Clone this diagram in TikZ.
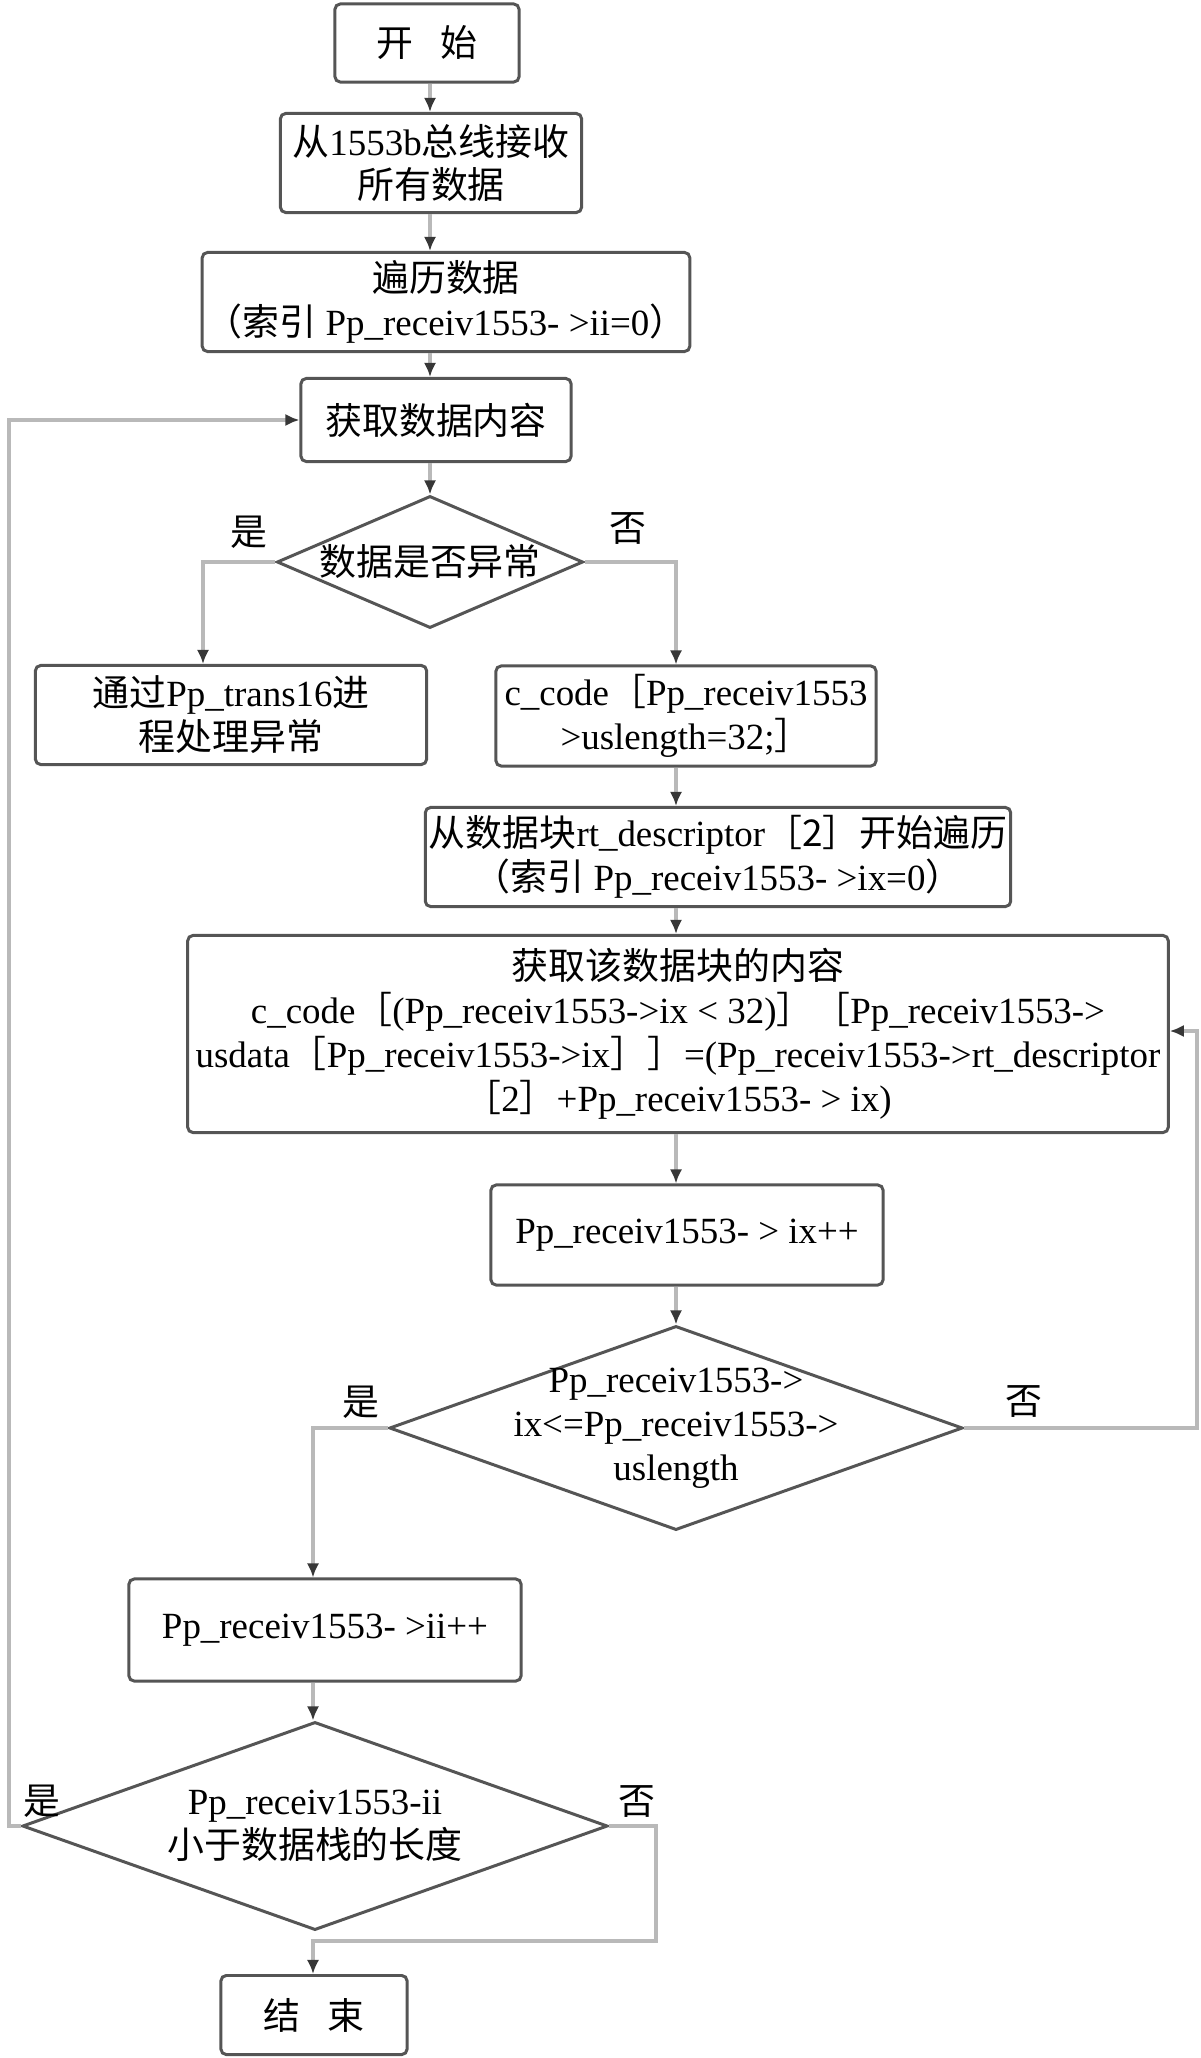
\documentclass[tikz,border=0pt]{standalone}
\usepackage{fontspec}
\setmainfont{Liberation Serif}
\newfontfamily\cjk{Noto Sans CJK SC}
\newcommand{\zh}[1]{{\cjk #1}}
\usetikzlibrary{shapes.geometric,arrows.meta}
\definecolor{boxgray}{RGB}{85,85,85}
\definecolor{linegray}{RGB}{185,185,185}
\definecolor{tipgray}{RGB}{55,55,55}
\tikzset{
  procbox/.style={draw=boxgray,line width=0.85pt,rounded corners=1.5pt,fill=white,
    align=center,inner sep=1pt,font=\fontsize{10.5}{12.5}\selectfont},
  decbox/.style={draw=boxgray,line width=0.85pt,diamond,inner sep=0pt,fill=white},
  dectext/.style={align=center,inner sep=0pt,font=\fontsize{10.5}{12.5}\selectfont},
  flow/.style={draw=linegray,line width=1pt,-{Latex[length=4pt,width=3.5pt,color=tipgray]}},
  yesno/.style={inner sep=0pt,font=\fontsize{10.5}{12.5}\selectfont\cjk}
}
\begin{document}
\begin{tikzpicture}[x=0.01cm,y=-0.01cm]
  \useasboundingbox (0,0) rectangle (1200,2058);
  % columns of the connectors
  \coordinate (colT) at (430,0);
  \coordinate (colL) at (203,0);
  \coordinate (colR) at (676,0);
  \coordinate (colLL) at (313,0);
  \coordinate (rloop) at (1197,1031);
  \coordinate (lloop) at (9,420);
  \coordinate (rbend) at (656,1941);
  \coordinate (jn) at (313,1941);

  % process boxes
  \node[procbox,minimum width=1.84cm,minimum height=0.78cm] (start) at (427,43)
    {\zh{开}\hspace{0.75em}\zh{始}};
  \node[procbox,minimum width=3.01cm,minimum height=0.99cm] (recv) at (431,163)
    {\zh{从}1553b\zh{总线接收}\\\zh{所有数据}};
  \node[procbox,minimum width=4.70cm,minimum height=0.99cm] (trav) at (446,302)
    {\zh{遍历数据}\\\zh{（索引} Pp\_receiv1553- >ii=0\zh{）}};
  \node[procbox,minimum width=2.70cm,minimum height=0.83cm] (fetch) at (436,420)
    {\zh{获取数据内容}};
  \node[decbox,minimum width=3.06cm,minimum height=1.32cm] (chk) at (430,562) {};
  \node[dectext] (chkt) at (chk) {\zh{数据是否异常}};

  \node[procbox,minimum width=3.91cm,minimum height=0.99cm] (err) at (231,715)
    {\zh{通过}Pp\_trans16\zh{进}\\\zh{程处理异常}};
  \node[procbox,minimum width=3.80cm,minimum height=1.00cm] (ccode) at (686,716)
    {c\_code\zh{［}Pp\_receiv1553\\>uslength=32;\zh{］}};
  \node[procbox,minimum width=5.80cm,minimum height=0.99cm] (blk) at (718,857)
    {\zh{从数据块}rt\_descriptor\zh{［2］开始遍历}\\\zh{（索引} Pp\_receiv1553- >ix=0\zh{）}};
  \node[procbox,minimum width=9.80cm,minimum height=1.97cm] (cont) at (678,1034)
    {\zh{获取该数据块的内容}\\
     c\_code\zh{［}(Pp\_receiv1553->ix < 32)\zh{］［}Pp\_receiv1553->\\
     usdata\zh{［}Pp\_receiv1553->ix\zh{］］}=(Pp\_receiv1553->rt\_descriptor\\
     \zh{［}2\zh{］}+Pp\_receiv1553- > ix)};
  \node[procbox,minimum width=3.92cm,minimum height=1.00cm] (incx) at (687,1235)
    {Pp\_receiv1553- > ix++};
  \node[decbox,minimum width=5.73cm,minimum height=2.04cm] (cmpx) at (676,1428) {};
  \node[dectext] (cmpxt) at (cmpx)
    {Pp\_receiv1553->\\ix<=Pp\_receiv1553->\\uslength};

  \node[procbox,minimum width=3.92cm,minimum height=1.02cm] (inci) at (325,1630)
    {Pp\_receiv1553- >ii++};
  \node[decbox,minimum width=5.85cm,minimum height=2.08cm] (cmpi) at (315,1826) {};
  \node[dectext] (cmpit) at (cmpi)
    {Pp\_receiv1553-ii\\\zh{小于数据栈的长度}};
  \node[procbox,minimum width=1.86cm,minimum height=0.79cm] (stop) at (314,2015)
    {\zh{结}\hspace{0.75em}\zh{束}};

  % yes / no labels
  \node[yesno] (y1) at (249,532) {是};
  \node[yesno] (n1) at (628,529) {否};
  \node[yesno] (y2) at (361,1402) {是};
  \node[yesno] (n2) at (1024,1402) {否};
  \node[yesno] (y3) at (42,1801) {是};
  \node[yesno] (n3) at (637,1801) {否};

  % connectors
  \draw[flow] (start.south -| colT) -- (recv.north -| colT);
  \draw[flow] (recv.south -| colT) -- (trav.north -| colT);
  \draw[flow] (trav.south -| colT) -- (fetch.north -| colT);
  \draw[flow] (fetch.south -| colT) -- (chk.north);
  \draw[flow] (chk.west) -| (err.north -| colL);
  \draw[flow] (chk.east) -| (ccode.north -| colR);
  \draw[flow] (ccode.south -| colR) -- (blk.north -| colR);
  \draw[flow] (blk.south -| colR) -- (cont.north -| colR);
  \draw[flow] (cont.south -| colR) -- (incx.north -| colR);
  \draw[flow] (incx.south -| colR) -- (cmpx.north);
  \draw[flow] (cmpx.east) -| (rloop) -- (rloop -| cont.east);
  \draw[flow] (cmpx.west) -| (inci.north -| colLL);
  \draw[flow] (inci.south -| colLL) -- (cmpi.north -| colLL);
  \draw[flow] (cmpi.east) -| (rbend) -- (jn) -- (stop.north -| jn);
  \draw[flow] (cmpi.west) -| (lloop) -- (fetch.west);
\end{tikzpicture}
\end{document}
